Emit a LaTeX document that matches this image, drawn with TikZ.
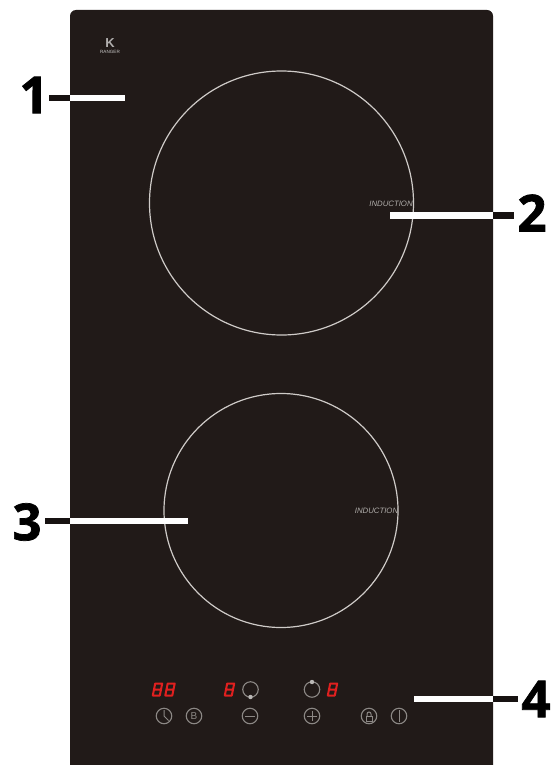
\documentclass[tikz,border=0pt]{standalone}
\usepackage{fontspec}
\usetikzlibrary{calc}
\setmainfont{Liberation Sans}
\newfontfamily\numfont{Open Sans}[BoldFont={Open Sans Bold},BoldFeatures={FakeBold=1.4}]
\definecolor{panel}{HTML}{211A18}
\definecolor{ringc}{HTML}{CFCBC8}
\definecolor{icon}{HTML}{8C8885}
\definecolor{seg}{HTML}{E0201F}
\tikzset{
  hob/.style={draw=ringc,line width=1.2pt,fill=none},
  callout/.style={draw=white,line width=6.5pt},
  leader/.style={draw=panel!70!black,line width=6.5pt,shorten <=3.4pt},
  calloutnum/.style={font=\numfont\bfseries\fontsize{51}{51}\selectfont,text=black,inner sep=0pt},
  btn/.style={draw=icon,line width=1.1pt,circle,minimum size=15.5pt,inner sep=0pt},
  iconline/.style={draw=icon,line width=1pt},
  induct/.style={font=\itshape\fontsize{7.8}{7.8}\selectfont,text=ringc!85!black,inner sep=0pt},
}
\newcommand{\eightseg}[2]{%
  \begin{scope}[shift={(#1,#2)},xslant=0.2]
    \draw[seg,line width=2pt,line join=round] (0,-6) rectangle (7,6) (0,0) -- (7,0);
  \end{scope}}
\begin{document}
\begin{tikzpicture}[x=1pt,y=-1pt]
\useasboundingbox (0,0) rectangle (550,765);
\fill[white] (0,0) rectangle (550,765);
\fill[panel] (70,765) -- (70,16) arc[start angle=180,end angle=90,x radius=6,y radius=-6] -- (487,10) arc[start angle=90,end angle=0,x radius=6,y radius=-6] -- (493,765) -- cycle;
% logo
\node[inner sep=0pt,font=\bfseries\fontsize{13}{13}\selectfont,text=white!65!panel] (logomark) at (110,43) {K};
\node[inner sep=0pt,font=\fontsize{4.6}{4.6}\selectfont,text=white!75!panel] (logotext) at (110,51.5) {RANGER};
% zones
\node[hob,circle,minimum size=264pt,inner sep=0pt] (zoneA) at (281.5,203) {};
\node[hob,circle,minimum size=234pt,inner sep=0pt] (zoneB) at (281,510.5) {};
\node[induct] (indA) at (391,203.5) {INDUCTION};
\node[induct] (indB) at (376.5,511) {INDUCTION};
% callouts
\node[calloutnum] (n1) at (34,95) {1};
\node[calloutnum] (n2) at (532,213) {2};
\node[calloutnum] (n3) at (27,522) {3};
\node[calloutnum] (n4) at (536,699) {4};
\coordinate (e1) at (125,98);
\coordinate (e2) at (390,215.5);
\coordinate (e3) at (188,521);
\coordinate (e4) at (414,699);
\coordinate (p1) at (70,98);
\coordinate (p2) at (493,215.5);
\coordinate (p3) at (70,521);
\coordinate (p4) at (493,699);
\draw[leader,shorten <=0.5pt] (n1.east |- e1) -- (p1);
\draw[leader] (n2.west |- e2) -- (p2);
\draw[leader] (n3.east |- e3) -- (p3);
\draw[leader] (n4.west |- e4) -- (p4);
\draw[callout] (p1) -- (e1);
\draw[callout] (p2) -- (e2);
\draw[callout] (p3) -- (e3);
\draw[callout] (p4) -- (e4);
% displays
\eightseg{154}{689.5}
\eightseg{166.5}{689.5}
\eightseg{226}{689.5}
\eightseg{329}{689.5}
% zone rings
\node[btn] (ringA) at (250.5,689.5) {};
\fill[icon!60!white] (250.5,697) circle[radius=2.2];
\node[btn] (ringB) at (312,689.5) {};
\fill[icon!60!white] (312,682) circle[radius=2.2];
% buttons
\node[btn] (clock) at (164,716) {};
\draw[iconline] (clock.center) ++(0,-6) -- (clock.center) -- ++(4.5,4.5);
\node[btn,font=\fontsize{10}{10}\selectfont,text=icon] (boost) at (194,716) {B};
\node[btn] (minus) at (250,716) {};
\draw[iconline] (minus.center) ++(-5,0) -- ++(10,0);
\node[btn] (plus) at (312,716) {};
\draw[iconline] (plus.center) ++(-5,0) -- ++(10,0);
\draw[iconline] (plus.center) ++(0,-5) -- ++(0,10);
\node[btn] (lock) at (369,716) {};
\draw[iconline] ($(lock.center)+(-3,0)$) rectangle ($(lock.center)+(3,5)$);
\draw[iconline] ($(lock.center)+(-2,0)$) -- ++(0,-2) arc[start angle=180,end angle=0,x radius=2,y radius=-2] -- ++(0,2);
\node[btn] (power) at (399,716) {};
\draw[iconline] (power.center) ++(0,-6) -- ++(0,12);
\end{tikzpicture}
\end{document}
